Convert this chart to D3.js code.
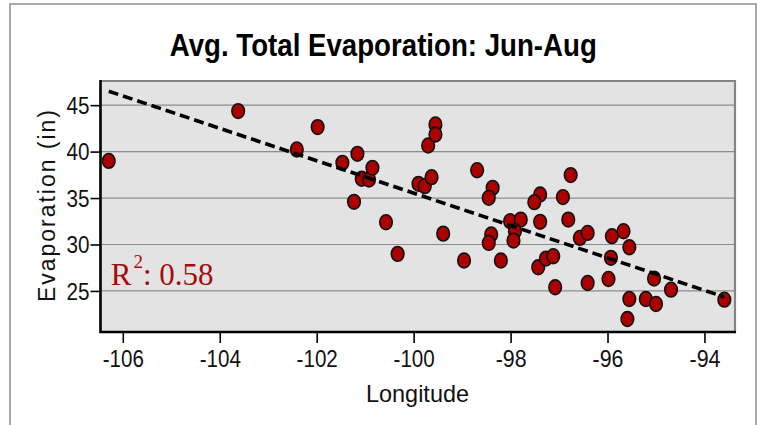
<!DOCTYPE html>
<html>
<head>
<meta charset="utf-8">
<script src="https://cdn.jsdelivr.net/npm/d3@7"></script>
<style>
  html, body { margin: 0; padding: 0; background: #fff; }
  svg { display: block; }
</style>
</head>
<body>
<svg id="chart" width="762" height="425"></svg>
<script>
// ---- data ----
const longitude = [-106.29, -103.62, -102.41, -101.98, -101.47, -101.16, -101.07, -100.92, -100.85, -101.23,
  -100.57, -100.33, -99.90, -99.77, -99.63, -99.70, -99.55, -99.55, -99.39, -98.96,
  -98.69, -98.37, -98.45, -98.40, -98.45, -98.20, -98.01, -97.79, -97.91, -97.94,
  -97.39, -97.51, -97.39, -97.43, -97.27, -97.12, -97.08, -96.76, -96.92, -96.81,
  -96.57, -96.41, -96.41, -95.91, -95.67, -95.55, -95.93, -95.98, -95.04, -94.69,
  -95.55, -95.21, -95.00, -95.59, -93.59];
const evaporation = [39.0, 44.36, 40.23, 42.64, 38.79, 39.76, 37.07, 37.0, 38.25, 34.59,
  32.4, 28.99, 36.53, 36.28, 37.25, 40.66, 42.92, 41.84, 31.17, 28.27,
  38.0, 36.1, 35.02, 31.07, 30.17, 28.27, 32.51, 32.68, 31.43, 30.42,
  35.38, 34.56, 32.44, 27.55, 28.48, 28.74, 25.40, 37.47, 35.1, 32.68,
  30.71, 31.25, 25.86, 30.9, 31.43, 29.7, 28.56, 26.29, 26.33, 25.14,
  24.14, 24.14, 23.6, 21.98, 24.06];
const trendX = [-106.29, -93.59];
const trendY = [46.5, 24.35];
const xTicks = [-106, -104, -102, -100, -98, -96, -94];
const yTicks = [25, 30, 35, 40, 45];
const titleText = "Avg. Total Evaporation: Jun-Aug";
const xLabel = "Longitude";
const yLabel = "Evaporation (in)";
const r2Value = "0.58";

// ---- layout ----
const svg = d3.select("#chart");
const L = 100.5, R = 735, T = 81, B = 332;
const x = d3.scaleLinear().domain([-106.46, -93.37]).range([L, R]);
const y = d3.scaleLinear().domain([20.58, 47.6]).range([B, T]);
const sansFont = "'Liberation Sans', Arial, sans-serif";

// outer frame
svg.append("rect").attr("x", 10).attr("y", 4).attr("width", 746).attr("height", 440)
  .attr("fill", "#fff").attr("stroke", "#a9a9a9").attr("stroke-width", 2);

// plot background
svg.append("rect").attr("x", L).attr("y", T).attr("width", R - L).attr("height", B - T)
  .attr("fill", "#e3e3e3");

// gridlines
svg.append("g").selectAll("line").data(yTicks).join("line")
  .attr("x1", L).attr("x2", R)
  .attr("y1", d => y(d)).attr("y2", d => y(d))
  .attr("stroke", "#8c8c8c").attr("stroke-width", 1.2);

// top / right border
svg.append("path")
  .attr("d", `M${L},${T}H${R}V${B}`)
  .attr("fill", "none").attr("stroke", "#858585").attr("stroke-width", 2.2);

// points
svg.append("g").selectAll("ellipse").data(longitude.map((d, i) => [d, evaporation[i]])).join("ellipse")
  .attr("cx", d => x(d[0])).attr("cy", d => y(d[1]))
  .attr("rx", 6.3).attr("ry", 7.4)
  .attr("fill", "#aa0000").attr("stroke", "#111").attr("stroke-width", 1.6);

// trend line
svg.append("line")
  .attr("x1", x(trendX[0])).attr("y1", y(trendY[0]))
  .attr("x2", x(trendX[1])).attr("y2", y(trendY[1]))
  .attr("stroke", "#000").attr("stroke-width", 3.6)
  .attr("stroke-dasharray", "10,5");

// axes
const fmt = d => String(d);
const xAxis = svg.append("g").attr("transform", `translate(0,${B})`)
  .call(d3.axisBottom(x).tickValues(xTicks).tickSize(11).tickPadding(8).tickFormat(fmt));
const yAxis = svg.append("g").attr("transform", `translate(${L},0)`)
  .call(d3.axisLeft(y).tickValues(yTicks).tickSize(10).tickPadding(1).tickFormat(fmt));
[xAxis, yAxis].forEach(g => {
  g.select(".domain").remove();
  g.selectAll(".tick line").attr("stroke", "#000").attr("stroke-width", 1.6);
  g.selectAll(".tick text").attr("fill", "#111").style("font-family", sansFont).style("font-size", "23px");
});
xAxis.selectAll(".tick text").attr("dy", "0.71em")
  .attr("textLength", d => String(d).length * 10.3).attr("lengthAdjust", "spacingAndGlyphs");
yAxis.selectAll(".tick text").attr("dy", "0.35em")
  .attr("textLength", 23).attr("lengthAdjust", "spacingAndGlyphs");

// left & bottom axis lines
svg.append("path")
  .attr("d", `M${L},${T - 1}V${B}H${R + 1}`)
  .attr("fill", "none").attr("stroke", "#000").attr("stroke-width", 2.6);

// title
svg.append("text").attr("x", 383.3).attr("y", 56).attr("text-anchor", "middle")
  .attr("textLength", 427).attr("lengthAdjust", "spacingAndGlyphs")
  .style("font-family", sansFont).style("font-weight", "bold").style("font-size", "31px")
  .attr("fill", "#000").text(titleText);

// x label
svg.append("text").attr("x", 417.5).attr("y", 401.5).attr("text-anchor", "middle")
  .attr("textLength", 103).attr("lengthAdjust", "spacingAndGlyphs")
  .style("font-family", sansFont).style("font-size", "24px").attr("fill", "#111").text(xLabel);

// y label
svg.append("text").attr("transform", "translate(54.5,206) rotate(-90)").attr("text-anchor", "middle")
  .attr("textLength", 192).attr("lengthAdjust", "spacing")
  .style("font-family", sansFont).style("font-size", "23px").attr("fill", "#111").text(yLabel);

// R^2 annotation
const r2 = svg.append("text").attr("x", 110.7).attr("y", 284.7)
  .style("font-family", "'Liberation Serif', 'Times New Roman', serif").style("font-size", "31px")
  .attr("fill", "#a30c0c");
r2.append("tspan").text("R");
r2.append("tspan").attr("dy", -17).attr("dx", 2).style("font-size", "19px").text("2");
r2.append("tspan").attr("dy", 17).text(": " + r2Value);
</script>
</body>
</html>
